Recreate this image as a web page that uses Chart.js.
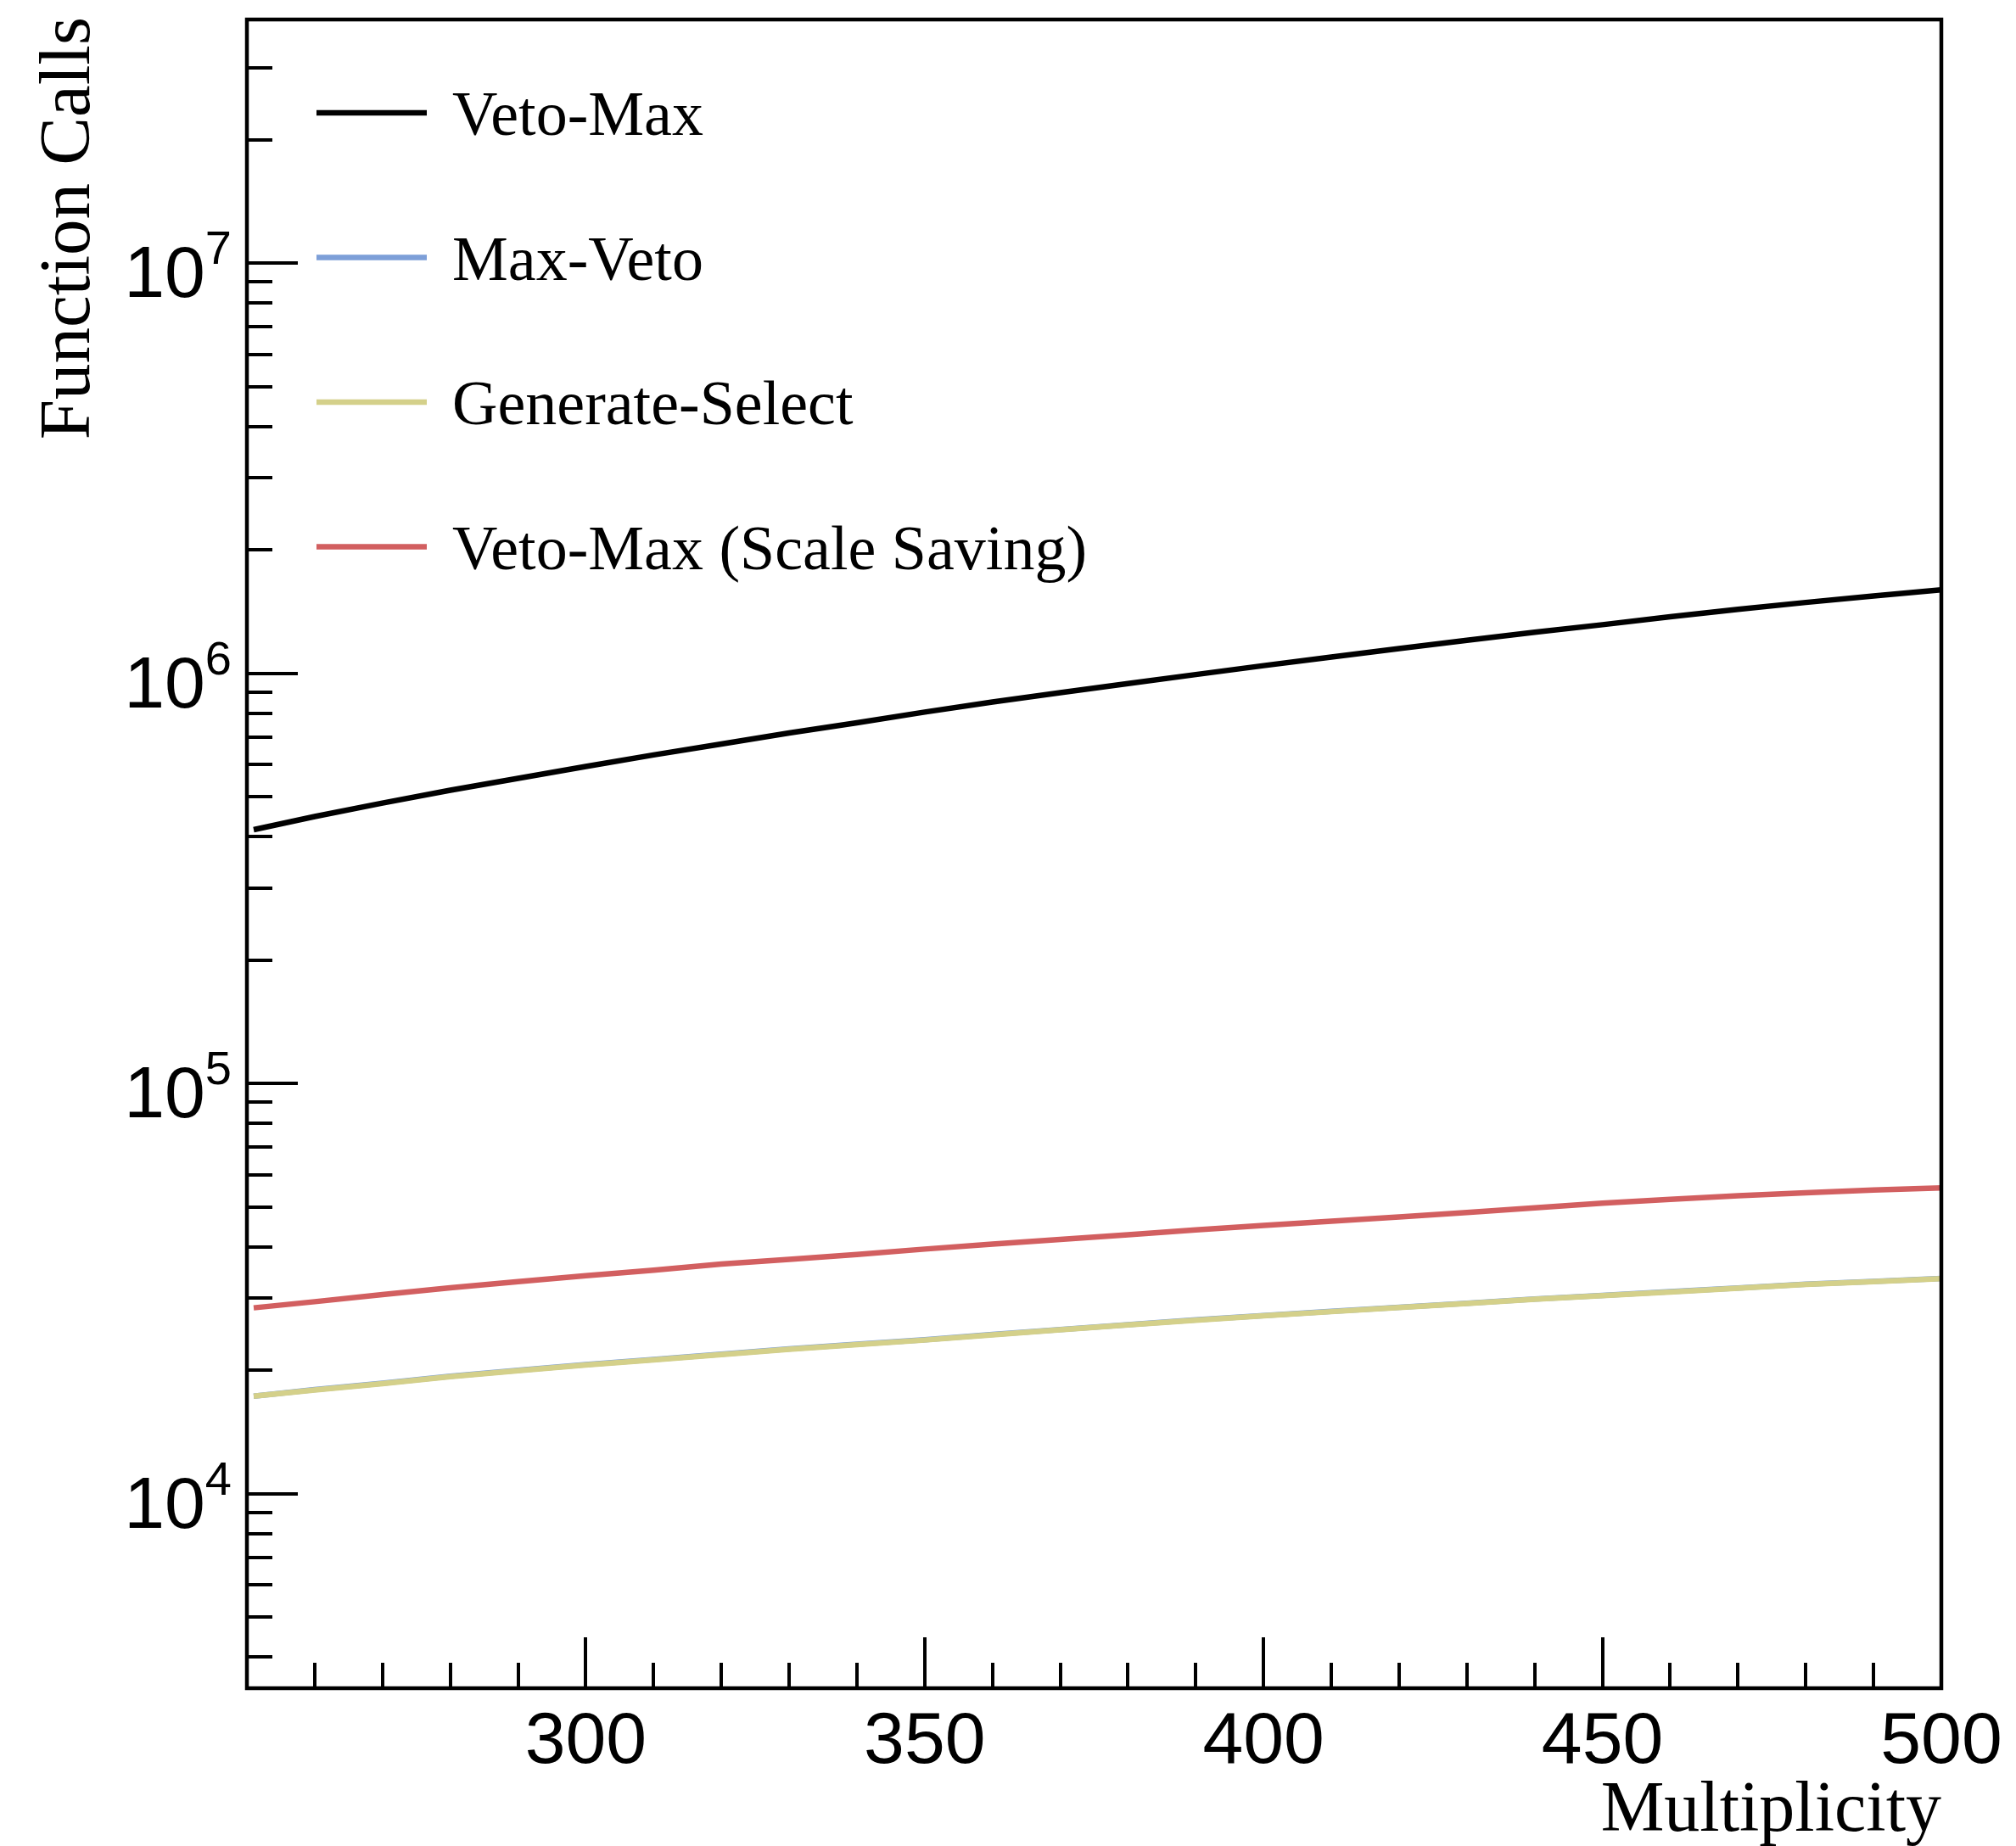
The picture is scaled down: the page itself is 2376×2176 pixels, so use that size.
<!DOCTYPE html>
<html>
<head>
<meta charset="utf-8">
<script src="https://cdn.jsdelivr.net/npm/chart.js@4.4.1/dist/chart.umd.min.js"></script>
<style>
html, body { margin: 0; padding: 0; background: #ffffff; }
canvas { display: block; }
</style>
</head>
<body>
<canvas id="chart" width="2376" height="2176"></canvas>
<script>
// ---------------- data ----------------
const multiplicity = [251, 260, 270, 280, 290, 300, 310, 320, 330, 340, 350, 360, 370,
                      380, 390, 400, 410, 420, 430, 440, 450, 460, 470, 480, 490, 500];

const vetoMax = [4.16e5, 4.48e5, 4.83e5, 5.19e5, 5.55e5, 5.93e5, 6.33e5, 6.73e5, 7.16e5,
                 7.58e5, 8.05e5, 8.52e5, 8.98e5, 9.45e5, 9.94e5, 1.045e6, 1.097e6, 1.15e6,
                 1.205e6, 1.26e6, 1.315e6, 1.375e6, 1.433e6, 1.49e6, 1.545e6, 1.60e6];

const maxVeto = [1.73e4, 1.795e4, 1.86e4, 1.935e4, 2.0e4, 2.065e4, 2.125e4, 2.19e4, 2.255e4,
                 2.315e4, 2.375e4, 2.445e4, 2.515e4, 2.585e4, 2.655e4, 2.72e4, 2.785e4, 2.85e4,
                 2.915e4, 2.985e4, 3.045e4, 3.11e4, 3.175e4, 3.245e4, 3.295e4, 3.35e4];

const generateSelect = [1.73e4, 1.79e4, 1.855e4, 1.93e4, 1.995e4, 2.06e4, 2.12e4, 2.185e4, 2.25e4,
                        2.31e4, 2.37e4, 2.44e4, 2.51e4, 2.58e4, 2.65e4, 2.715e4, 2.78e4, 2.845e4,
                        2.91e4, 2.98e4, 3.04e4, 3.105e4, 3.17e4, 3.24e4, 3.29e4, 3.345e4];

const vetoMaxScaleSaving = [2.84e4, 2.94e4, 3.06e4, 3.18e4, 3.29e4, 3.40e4, 3.51e4, 3.63e4, 3.73e4,
                            3.83e4, 3.95e4, 4.06e4, 4.17e4, 4.28e4, 4.40e4, 4.51e4, 4.62e4, 4.73e4,
                            4.85e4, 4.98e4, 5.11e4, 5.22e4, 5.33e4, 5.42e4, 5.50e4, 5.57e4];

const seriesNames = ['Veto-Max', 'Max-Veto', 'Generate-Select', 'Veto-Max (Scale Saving)'];
const seriesValues = [vetoMax, maxVeto, generateSelect, vetoMaxScaleSaving];
const seriesColors = ['#000000', '#7d9fd8', '#d4d08a', '#d25f60'];
const seriesDrawOrder = [0, 2, 1, 0];

const xRange = [250, 500];
const yRange = [3357, 3.93e7];

const xTickValues = [250, 260, 270, 280, 290, 300, 310, 320, 330, 340, 350, 360, 370, 380, 390,
                     400, 410, 420, 430, 440, 450, 460, 470, 480, 490, 500];
const xTickLabels = ['300', '350', '400', '450', '500'];
const yDecadeExponents = [3, 4, 5, 6, 7];
const yLabelExponents = ['4', '5', '6', '7'];
const yMinorMultipliers = [2, 3, 4, 5, 6, 7, 8, 9];

const xTitle = 'Multiplicity';
const yTitle = 'Function Calls';

// ---------------- styling ----------------
const SANS = '"Liberation Sans", Arial, Helvetica, sans-serif';
const SERIF = '"Liberation Serif", "Times New Roman", Times, serif';

const datasets = seriesNames.map((name, i) => ({
  label: name,
  data: multiplicity.map((m, j) => ({ x: m, y: seriesValues[i][j] })),
  borderColor: seriesColors[i],
  backgroundColor: seriesColors[i],
  borderWidth: 6.5,
  pointRadius: 0,
  tension: 0,
  fill: false,
  order: seriesDrawOrder[i]
}));

const rootStylePlugin = {
  id: 'rootStyle',
  afterDraw(chart) {
    const ctx = chart.ctx;
    const a = chart.chartArea;
    const xs = chart.scales.x;
    const ys = chart.scales.y;
    ctx.save();

    // ticks (inside the frame)
    ctx.strokeStyle = '#000';
    ctx.lineWidth = 4;
    ctx.lineCap = 'butt';
    xTickValues.forEach(v => {
      const px = Math.round(xs.getPixelForValue(v));
      const major = v % 50 === 0;
      const len = major ? 60 : 30;
      ctx.beginPath();
      ctx.moveTo(px, a.bottom);
      ctx.lineTo(px, a.bottom - len);
      ctx.stroke();
    });
    yDecadeExponents.forEach(e => {
      const dec = Math.pow(10, e);
      if (dec >= yRange[0] && dec <= yRange[1]) {
        const py = Math.round(ys.getPixelForValue(dec));
        ctx.beginPath();
        ctx.moveTo(a.left, py);
        ctx.lineTo(a.left + 60, py);
        ctx.stroke();
      }
      yMinorMultipliers.forEach(m => {
        const v = m * dec;
        if (v >= yRange[0] && v <= yRange[1]) {
          const py = Math.round(ys.getPixelForValue(v));
          ctx.beginPath();
          ctx.moveTo(a.left, py);
          ctx.lineTo(a.left + 30, py);
          ctx.stroke();
        }
      });
    });

    // frame
    ctx.lineWidth = 4.5;
    ctx.strokeRect(a.left, a.top, a.right - a.left, a.bottom - a.top);

    // x tick labels
    ctx.fillStyle = '#000';
    ctx.font = '86px ' + SANS;
    ctx.textAlign = 'center';
    ctx.textBaseline = 'alphabetic';
    xTickLabels.forEach(lbl => {
      const px = xs.getPixelForValue(Number(lbl));
      ctx.fillText(lbl, px, a.bottom + 88);
    });

    // y tick labels 10^n
    const supRight = a.left - 18;
    yLabelExponents.forEach(ex => {
      const py = ys.getPixelForValue(Math.pow(10, Number(ex)));
      ctx.font = '56px ' + SANS;
      ctx.textAlign = 'right';
      const supW = ctx.measureText(ex).width;
      ctx.fillText(ex, supRight, py + 1);
      ctx.font = '86px ' + SANS;
      ctx.fillText('10', supRight - supW, py + 40);
    });

    // axis titles
    ctx.font = '84px ' + SERIF;
    ctx.textAlign = 'right';
    ctx.fillText(xTitle, a.right, 2158);

    ctx.save();
    ctx.translate(105, 20);
    ctx.rotate(-Math.PI / 2);
    ctx.font = '85px ' + SERIF;
    ctx.textAlign = 'right';
    ctx.fillText(yTitle, 0, 0);
    ctx.restore();

    // legend
    const legendX0 = 373, legendX1 = 503, legendTextX = 533;
    const legendY0 = 133, legendStep = 170.5;
    chart.data.datasets.forEach((ds, i) => {
      const y = legendY0 + i * legendStep;
      ctx.strokeStyle = ds.borderColor;
      ctx.lineWidth = 6.5;
      ctx.beginPath();
      ctx.moveTo(legendX0, y);
      ctx.lineTo(legendX1, y);
      ctx.stroke();
      ctx.fillStyle = '#000';
      ctx.font = '74px ' + SERIF;
      ctx.textAlign = 'left';
      ctx.fillText(ds.label, legendTextX, y + 26);
    });

    ctx.restore();
  }
};

new Chart(document.getElementById('chart'), {
  type: 'line',
  data: { datasets: datasets },
  options: {
    responsive: false,
    animation: false,
    devicePixelRatio: 1,
    layout: { padding: { left: 291, right: 88, top: 23, bottom: 186 } },
    plugins: {
      legend: { display: false },
      tooltip: { enabled: false },
      title: { display: false }
    },
    scales: {
      x: { type: 'linear', display: false, min: xRange[0], max: xRange[1] },
      y: { type: 'logarithmic', display: false, min: yRange[0], max: yRange[1] }
    }
  },
  plugins: [rootStylePlugin]
});
</script>
</body>
</html>
